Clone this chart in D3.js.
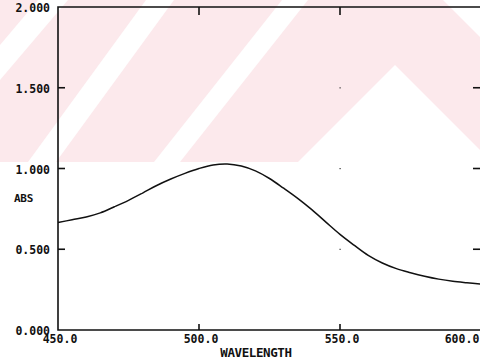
<!DOCTYPE html>
<html>
<head>
<meta charset="utf-8">
<script src="https://cdn.jsdelivr.net/npm/d3@7"></script>
<style>
  html, body { margin: 0; padding: 0; background: #ffffff; }
  svg { display: block; }
  text { font-family: "DejaVu Sans Mono", "Liberation Mono", monospace; font-weight: bold; fill: #111; }
</style>
</head>
<body>
<svg id="chart" width="480" height="362"></svg>
<script>
// ---- data ----
const wavelengths = [450,455,460,465,470,475,480,485,490,495,500,505,510,515,520,525,530,535,540,545,550,555,560,565,570,575,580,585,590,595,600];
const absorbance  = [0.665,0.683,0.700,0.725,0.763,0.803,0.848,0.895,0.935,0.970,1.000,1.022,1.028,1.015,0.985,0.938,0.878,0.815,0.745,0.668,0.592,0.525,0.462,0.415,0.380,0.355,0.333,0.315,0.302,0.293,0.285];
const xTicks = [450, 500, 550, 600];
const xTickLabels = ["450.0", "500.0", "550.0", "600.0"];
const yTicks = [0, 0.5, 1.0, 1.5, 2.0];
const yTickLabels = ["0.000", "0.500", "1.000", "1.500", "2.000"];
const xTitle = "WAVELENGTH";
const yTitle = "ABS";

(function () {
// ---- layout ----
const W = 480, H = 362;
const mLeft = 58, mRight = 481, mTop = 7, mBottom = 330;
const svg = d3.select("#chart");

const x = d3.scaleLinear().domain([450, 600]).range([mLeft, mRight]);
const y = d3.scaleLinear().domain([0, 2]).range([mBottom, mTop]);

// ---- background watermark (pink band with white diagonal stripes) ----
const bg = svg.append("g");
bg.append("rect").attr("x", 0).attr("y", 0).attr("width", W).attr("height", 162).attr("fill", "#fce9ec");
const stripes = [
  [[38,0],[68,0],[0,80],[0,45]],
  [[146,0],[174,0],[56,162],[28,162]],
  [[282,0],[308,0],[180,162],[154,162]],
  [[395,65],[492,162],[298,162]],
  [[443,0],[480,0],[480,37]]
];
bg.selectAll("polygon").data(stripes).join("polygon")
  .attr("points", d => d.map(p => p.join(",")).join(" "))
  .attr("fill", "#ffffff");

// ---- frame ----
svg.append("path")
  .attr("d", `M${mLeft},${mTop}H${mRight}V${mBottom}H${mLeft}Z`)
  .attr("stroke", "#111").attr("fill", "none").attr("stroke-width", 1.6);

// ---- ticks (inward) ----
const innerX = xTicks.filter(v => v > 450 && v < 600);
const innerY = yTicks.filter(v => v > 0 && v < 2);
const tk = svg.append("g").attr("stroke", "#111").attr("stroke-width", 1.6);
tk.selectAll(".tb").data(innerX).join("line").attr("class", "tb")
  .attr("x1", d => x(d)).attr("x2", d => x(d)).attr("y1", mBottom).attr("y2", mBottom - 6);
tk.selectAll(".tt").data(innerX).join("line").attr("class", "tt")
  .attr("x1", d => x(d)).attr("x2", d => x(d)).attr("y1", mTop).attr("y2", mTop + 8);
tk.selectAll(".tl").data(innerY).join("line").attr("class", "tl")
  .attr("x1", mLeft).attr("x2", mLeft + 7).attr("y1", d => y(d)).attr("y2", d => y(d));
tk.selectAll(".tr").data(innerY).join("line").attr("class", "tr")
  .attr("x1", mRight).attr("x2", mRight - 8).attr("y1", d => y(d)).attr("y2", d => y(d));

// grid dots at 550
svg.append("g").selectAll("rect").data(innerY).join("rect")
  .attr("x", x(550) - 0.5).attr("y", d => y(d) - 0.5).attr("width", 1.2).attr("height", 1.2).attr("fill", "#333");

// ---- tick labels ----
svg.append("g").selectAll("text").data(yTicks).join("text")
  .attr("x", 50).attr("y", d => y(d) + 1).attr("dy", "0.35em")
  .attr("text-anchor", "end").attr("font-size", 11.5)
  .text((d, i) => yTickLabels[i]);

svg.append("g").selectAll("text").data(xTicks).join("text")
  .attr("x", d => x(d) + (d === 600 ? -19 : 2)).attr("y", 343)
  .attr("text-anchor", "middle").attr("font-size", 11.5)
  .text((d, i) => xTickLabels[i]);

// ---- axis titles ----
svg.append("text").attr("x", 14).attr("y", 202).attr("font-size", 11).attr("text-anchor", "start")
  .attr("letter-spacing", -0.3).text(yTitle);
svg.append("text").attr("x", 256).attr("y", 357).attr("font-size", 12.5).attr("text-anchor", "middle")
  .attr("letter-spacing", -0.4).text(xTitle);

// ---- spectrum line ----
const line = d3.line()
  .x((d, i) => x(wavelengths[i]))
  .y(d => y(d))
  .curve(d3.curveCatmullRom);
svg.append("path").datum(absorbance)
  .attr("d", line)
  .attr("fill", "none").attr("stroke", "#111").attr("stroke-width", 1.5);
})();
</script>
</body>
</html>
